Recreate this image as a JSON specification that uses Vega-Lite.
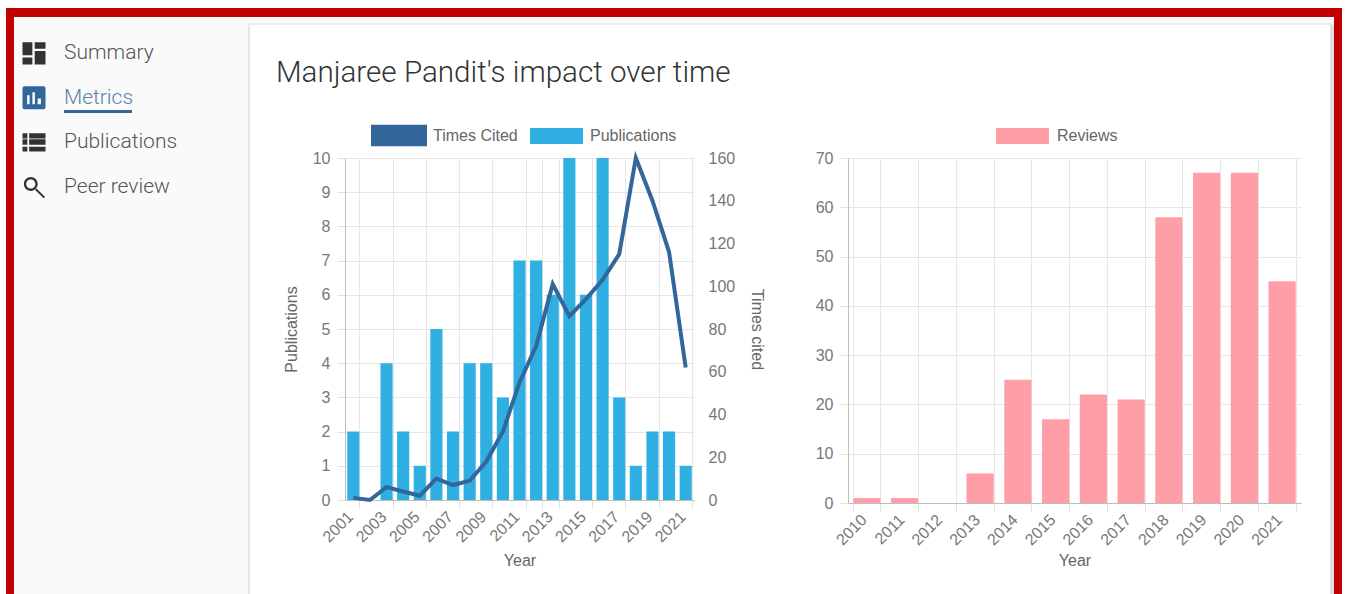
{
"$schema":"https://vega.github.io/schema/vega-lite/v6.json",
"width":1346,"height":594,"autosize":{"type":"none"},"padding":0,"background":"#ffffff",
"title":{"text":"Manjaree Pandit's impact over time","anchor":"start","frame":"group","dx":276,"offset":-118,"baseline":"bottom","font":"Roboto","fontWeight":300,"fontSize":29.6,"color":"#333333"},
"config":{"view":{"stroke":null,"fill":"#ffffff"},
 "axis":{"labelFont":"Liberation Sans","titleFont":"Liberation Sans","labelFontSize":16,"titleFontSize":16,"labelColor":"#777777","titleColor":"#666666","titleFontWeight":"normal","gridColor":"#e6e6e6","tickColor":"#e0e0e0","domainColor":"#bdbdbd"},
 "legend":{"labelFont":"Liberation Sans","labelFontSize":16,"labelColor":"#666666","orient":"none","title":null,"symbolOpacity":1,"padding":0,"labelOffset":7}},
"datasets":{
 "nav":[{"item":"Summary"},{"item":"Metrics"},{"item":"Publications"},{"item":"Peer review"}],
 "panel":[{"panel":"page"}],
 "left":[
 {"year":"2001","publications":2,"cited":1},
 {"year":"2002","publications":0,"cited":0},
 {"year":"2003","publications":4,"cited":6},
 {"year":"2004","publications":2,"cited":4},
 {"year":"2005","publications":1,"cited":2},
 {"year":"2006","publications":5,"cited":10},
 {"year":"2007","publications":2,"cited":7},
 {"year":"2008","publications":4,"cited":9},
 {"year":"2009","publications":4,"cited":18},
 {"year":"2010","publications":3,"cited":32},
 {"year":"2011","publications":7,"cited":55},
 {"year":"2012","publications":7,"cited":72},
 {"year":"2013","publications":6,"cited":101},
 {"year":"2014","publications":10,"cited":86},
 {"year":"2015","publications":6,"cited":94},
 {"year":"2016","publications":10,"cited":103},
 {"year":"2017","publications":3,"cited":115},
 {"year":"2018","publications":1,"cited":160},
 {"year":"2019","publications":2,"cited":140},
 {"year":"2020","publications":2,"cited":116},
 {"year":"2021","publications":1,"cited":62}],
 "right":[
 {"year":"2010","reviews":1},{"year":"2011","reviews":1},{"year":"2012","reviews":0},{"year":"2013","reviews":6},{"year":"2014","reviews":25},{"year":"2015","reviews":17},{"year":"2016","reviews":22},{"year":"2017","reviews":21},{"year":"2018","reviews":58},{"year":"2019","reviews":67},{"year":"2020","reviews":67},{"year":"2021","reviews":45}]
},
"layer":[
 {"data":{"name":"panel"},"mark":{"type":"rect","fill":"#c00000"},"encoding":{"x":{"field":"panel","type":"nominal","axis":null,"scale":{"type":"band","range":[6,1342],"padding":0}},"y":{"field":"panel","type":"nominal","axis":null,"scale":{"type":"band","range":[8,17],"padding":0}}}},
 {"data":{"name":"panel"},"mark":{"type":"rect","fill":"#c00000"},"encoding":{"x":{"field":"panel","type":"nominal","axis":null,"scale":{"type":"band","range":[6,14],"padding":0}},"y":{"field":"panel","type":"nominal","axis":null,"scale":{"type":"band","range":[17,594],"padding":0}}}},
 {"data":{"name":"panel"},"mark":{"type":"rect","fill":"#c00000"},"encoding":{"x":{"field":"panel","type":"nominal","axis":null,"scale":{"type":"band","range":[1334,1342],"padding":0}},"y":{"field":"panel","type":"nominal","axis":null,"scale":{"type":"band","range":[17,594],"padding":0}}}},
 {"data":{"name":"panel"},"mark":{"type":"rect","fill":"#fafafa"},"encoding":{"x":{"field":"panel","type":"nominal","axis":null,"scale":{"type":"band","range":[14,248],"padding":0}},"y":{"field":"panel","type":"nominal","axis":null,"scale":{"type":"band","range":[17,594],"padding":0}}}},
 {"data":{"name":"panel"},"mark":{"type":"rect","fill":"#fafafa"},"encoding":{"x":{"field":"panel","type":"nominal","axis":null,"scale":{"type":"band","range":[248,1334],"padding":0}},"y":{"field":"panel","type":"nominal","axis":null,"scale":{"type":"band","range":[17,23],"padding":0}}}},
 {"data":{"name":"panel"},"mark":{"type":"rect","fill":"#ededed"},"encoding":{"x":{"field":"panel","type":"nominal","axis":null,"scale":{"type":"band","range":[248,1334],"padding":0}},"y":{"field":"panel","type":"nominal","axis":null,"scale":{"type":"band","range":[23,25],"padding":0}}}},
 {"data":{"name":"panel"},"mark":{"type":"rect","fill":"#e6e6e6"},"encoding":{"x":{"field":"panel","type":"nominal","axis":null,"scale":{"type":"band","range":[248,250],"padding":0}},"y":{"field":"panel","type":"nominal","axis":null,"scale":{"type":"band","range":[25,594],"padding":0}}}},
 {"data":{"name":"panel"},"mark":{"type":"rect","fill":"#e0e0e0"},"encoding":{"x":{"field":"panel","type":"nominal","axis":null,"scale":{"type":"band","range":[1330,1334],"padding":0}},"y":{"field":"panel","type":"nominal","axis":null,"scale":{"type":"band","range":[25,594],"padding":0}}}},
 {"data":{"name":"nav"},"mark":{"type":"point","filled":true,"opacity":1,"size":2116},
  "encoding":{"x":{"datum":"icon","type":"nominal","axis":null,"scale":{"type":"point","domain":["icon"],"range":[34,34],"padding":0}},
   "y":{"field":"item","type":"nominal","axis":null,"sort":null,"scale":{"type":"point","domain":["Summary","Metrics","Publications","Peer review"],"range":[53,187],"padding":0}},
   "color":{"field":"item","type":"nominal","legend":null,"scale":{"domain":["Summary","Metrics","Publications","Peer review"],"range":["#333333","#33669a","#333333","#333333"]}},
   "shape":{"field":"item","type":"nominal","legend":null,"scale":{"domain":["Summary","Metrics","Publications","Peer review"],"range":[
    "M-0.5,-0.47H-0.07V0.1H-0.5ZM-0.5,0.2H-0.07V0.5H-0.5ZM0.03,-0.47H0.5V-0.18H0.03ZM0.03,-0.09H0.5V0.5H0.03Z",
    "M-0.42,-0.5H0.42Q0.5,-0.5 0.5,-0.42V0.42Q0.5,0.5 0.42,0.5H-0.42Q-0.5,0.5 -0.5,0.42V-0.42Q-0.5,-0.5 -0.42,-0.5ZM-0.3,-0.1V0.29H-0.19V-0.1ZM-0.07,-0.24V0.29H0.04V-0.24ZM0.16,0.04V0.29H0.3V0.04Z",
    "M-0.5,-0.39H-0.29V-0.17H-0.5ZM-0.21,-0.39H0.5V-0.17H-0.21ZM-0.5,-0.13H-0.29V0.11H-0.5ZM-0.21,-0.13H0.5V0.11H-0.21ZM-0.5,0.19H-0.29V0.4H-0.5ZM-0.21,0.19H0.5V0.4H-0.21Z",
    "M-0.44,-0.13A0.3,0.3 0 1 1 0.16,-0.13A0.3,0.3 0 1 1 -0.44,-0.13ZM-0.34,-0.13A0.2,0.2 0 1 0 0.06,-0.13A0.2,0.2 0 1 0 -0.34,-0.13ZM0.05,0.13L0.11,0.07L0.48,0.43L0.42,0.49Z"
   ]}}}},
 {"data":{"name":"nav"},"mark":{"type":"text","align":"left","font":"Roboto","fontWeight":300,"fontSize":21},
  "encoding":{"x":{"datum":"label","type":"nominal","axis":null,"scale":{"type":"point","domain":["label"],"range":[64,64],"padding":0}},
   "y":{"field":"item","type":"nominal","axis":null,"sort":null,"scale":{"type":"point","domain":["Summary","Metrics","Publications","Peer review"],"range":[53,187],"padding":0}},
   "text":{"field":"item"},
   "color":{"field":"item","type":"nominal","legend":null,"scale":{"domain":["Summary","Metrics","Publications","Peer review"],"range":["#555555","#5a7fb0","#555555","#555555"]}}}},
 {"data":{"name":"panel"},"mark":{"type":"rect","fill":"#33669a"},"encoding":{"x":{"field":"panel","type":"nominal","axis":null,"scale":{"type":"band","range":[64,132],"padding":0}},"y":{"field":"panel","type":"nominal","axis":null,"scale":{"type":"band","range":[110,113],"padding":0}}}},
 {"data":{"name":"left"},"mark":{"type":"bar"},
  "encoding":{"x":{"field":"year","type":"ordinal","title":null,"scale":{"type":"band","range":[345,694],"paddingInner":0.27,"paddingOuter":0.135},
    "axis":{"orient":"top","values":["2001","2003","2005","2007","2009","2011","2012","2013","2015","2017","2019","2021"],"labels":false,"ticks":false,"domain":false,"tickBand":"extent","grid":true,"gridOpacity":{"expr":"datum.extra?0:1"}}},
   "y":{"field":"publications","type":"quantitative","title":"Publications","scale":{"domain":[0,10],"nice":false,"range":[500,158]},"axis":{"orient":"left","offset":-345,"values":[0,1,2,3,4,5,6,7,8,9,10],"grid":true,"tickSize":8,"labelPadding":7,"titlePadding":13}},
   "color":{"datum":"Publications","scale":{"domain":["Publications"],"range":["#2fafe2"]},"legend":{"legendX":530,"legendY":109.5,"symbolType":"M-1,-0.3H1V0.3H-1Z","symbolSize":2809,"symbolStrokeWidth":0}}}},
 {"data":{"name":"left"},"mark":{"type":"line","strokeWidth":4,"strokeJoin":"miter"},
  "encoding":{"x":{"field":"year","type":"ordinal","title":"Year","scale":{"type":"band","range":[345,694],"paddingInner":0.27,"paddingOuter":0.135},
    "axis":{"orient":"bottom","offset":-94,"values":["2001","2003","2005","2007","2009","2011","2012","2013","2015","2017","2019","2021"],"labelExpr":"datum.value=='2012'?'':datum.value","labelOverlap":false,"tickBand":"extent","grid":false,"labelAngle":-45,"labelAlign":"right","labelBaseline":"middle","tickSize":8,"labelPadding":6,"labelOffset":-3,"titlePadding":8,"tickOpacity":{"expr":"datum.extra?0:1"}}},
   "y":{"field":"cited","type":"quantitative","title":"Times cited","scale":{"domain":[0,160],"nice":false,"range":[500,158]},"axis":{"orient":"right","offset":-652,"values":[0,20,40,60,80,100,120,140,160],"grid":false,"domain":false,"ticks":false,"labelPadding":14,"titleAngle":90,"titlePadding":14}},
   "color":{"datum":"Times Cited","scale":{"domain":["Times Cited"],"range":["#33669a"]},"legend":{"legendX":371,"legendY":107.5,"labelOffset":6,"symbolType":"M-1,-0.38H1V0.38H-1Z","symbolSize":3136,"symbolFillColor":"#33669a","symbolStrokeColor":"#33669a","symbolStrokeWidth":0}}}},
 {"data":{"name":"right"},"mark":{"type":"bar","opacity":0},
  "encoding":{"x":{"field":"year","type":"ordinal","title":null,"scale":{"type":"band","range":[848,1301],"paddingInner":0.28,"paddingOuter":0.14},
    "axis":{"orient":"top","labels":false,"ticks":false,"domain":false,"tickBand":"extent","grid":true}},
   "y":{"field":"reviews","type":"quantitative","title":null,"scale":{"domain":[0,70],"nice":false,"range":[503,158]},"axis":{"orient":"left","offset":-848,"values":[0,10,20,30,40,50,60,70],"grid":true,"tickSize":8,"labelPadding":7}}}},
 {"data":{"name":"right"},"mark":{"type":"bar"},
  "encoding":{"x":{"field":"year","type":"ordinal","title":"Year","scale":{"type":"band","range":[848,1301],"paddingInner":0.28,"paddingOuter":0.14},
    "axis":{"orient":"bottom","offset":-91,"tickBand":"extent","grid":false,"labelAngle":-45,"labelAlign":"right","labelBaseline":"middle","tickSize":8,"labelPadding":6,"labelOffset":-3,"titlePadding":5}},
   "y":{"field":"reviews","type":"quantitative","axis":null,"scale":{"domain":[0,70],"nice":false,"range":[503,158]}},
   "color":{"datum":"Reviews","scale":{"domain":["Reviews"],"range":["#ff9ea7"]},"legend":{"legendX":996,"legendY":109.5,"labelOffset":8,"symbolType":"M-1,-0.3H1V0.3H-1Z","symbolSize":2809,"symbolStrokeWidth":0}}}}
],
"resolve":{"scale":{"x":"independent","y":"independent","color":"independent","shape":"independent"},"axis":{"x":"independent","y":"independent"},"legend":{"color":"independent"}}
}
